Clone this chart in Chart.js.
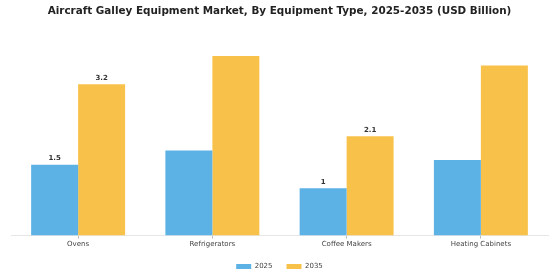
<!DOCTYPE html>
<html>
<head>
<meta charset="utf-8">
<script src="https://cdn.jsdelivr.net/npm/chart.js@4/dist/chart.umd.min.js"></script>
<style>
  html, body { margin: 0; padding: 0; background: #fff; }
  #wrap { width: 560px; height: 280px; }
</style>
</head>
<body>
<div id="wrap"><canvas id="chart"></canvas></div>
<script>
// Data
const categories = ['Ovens', 'Refrigerators', 'Coffee Makers', 'Heating Cabinets'];
const values2025 = [1.5, 1.8, 1.0, 1.6];
const values2035 = [3.2, 3.8, 2.1, 3.6];
// Only some bars carry a value label in the reference
const labels2025 = ['1.5', null, '1', null];
const labels2035 = ['3.2', null, '2.1', null];

const valueLabels = {
    id: 'valueLabels',
    afterDatasetsDraw(chart) {
        const ctx = chart.ctx;
        ctx.save();
        ctx.font = 'bold 7px "DejaVu Sans"';
        ctx.fillStyle = '#333';
        ctx.textAlign = 'center';
        ctx.textBaseline = 'middle';
        [labels2025, labels2035].forEach((lbls, di) => {
            const meta = chart.getDatasetMeta(di);
            meta.data.forEach((bar, i) => {
                if (lbls[i]) ctx.fillText(lbls[i], bar.x, bar.y - 6.5);
            });
        });
        ctx.restore();
    }
};

new Chart(document.getElementById('chart'), {
    type: 'bar',
    data: {
        labels: categories,
        datasets: [
            { label: '2025', data: values2025, backgroundColor: '#5DB2E5' },
            { label: '2035', data: values2035, backgroundColor: '#F8C24A' }
        ]
    },
    options: {
        responsive: true,
        maintainAspectRatio: false,
        animation: false,
        layout: { padding: { left: 11, right: 12, bottom: 0 } },
        datasets: { bar: { categoryPercentage: 0.7, barPercentage: 1.0 } },
        scales: {
            x: {
                grid: { display: true, drawOnChartArea: false, offset: false, tickLength: 3, color: '#bbb' },
                border: { color: '#e6e6e6' },
                ticks: { color: '#444', font: { size: 7, family: 'DejaVu Sans' }, padding: 1 }
            },
            y: { display: false, min: 0, max: 4 }
        },
        plugins: {
            title: {
                display: true,
                text: 'Aircraft Galley Equipment Market, By Equipment Type, 2025-2035 (USD Billion)',
                color: '#222',
                font: { size: 10.4, weight: 'bold', family: 'DejaVu Sans' },
                padding: { top: 5, bottom: 29 }
            },
            legend: {
                position: 'bottom',
                labels: {
                    boxWidth: 15, boxHeight: 5, color: '#444',
                    font: { size: 7, family: 'DejaVu Sans' }, padding: 14
                }
            },
            tooltip: { enabled: false }
        }
    },
    plugins: [valueLabels]
});
</script>
</body>
</html>
